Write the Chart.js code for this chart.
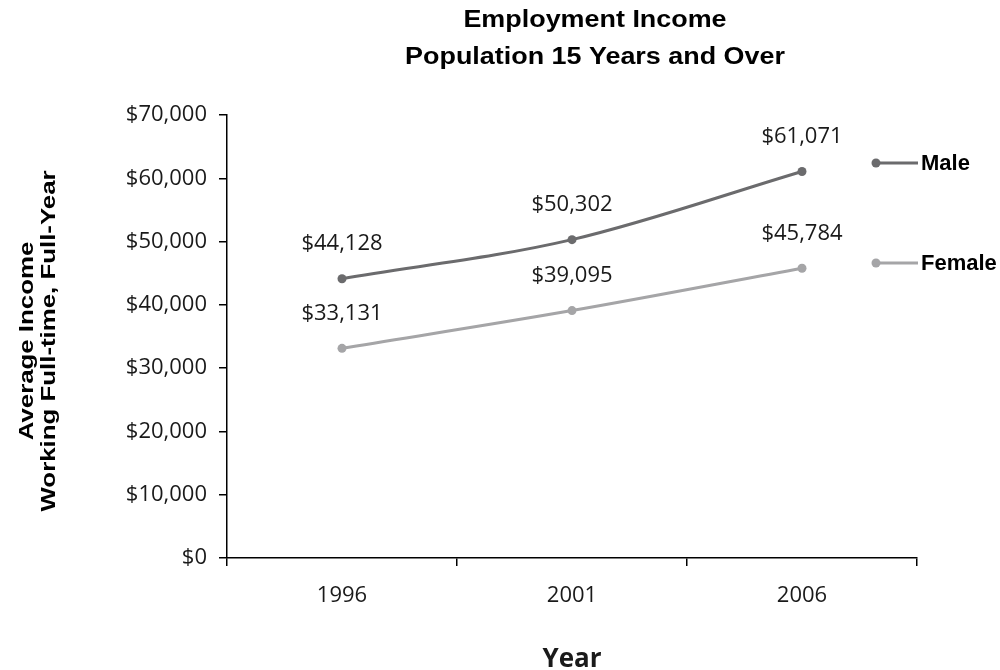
<!DOCTYPE html>
<html>
<head>
<meta charset="utf-8">
<script src="https://cdn.jsdelivr.net/npm/chart.js@4/dist/chart.umd.min.js"></script>
<style>
  html, body { margin: 0; padding: 0; background: #fff; }
  #wrap { width: 1000px; height: 670px; position: relative; }
</style>
</head>
<body>
<div id="wrap"><canvas id="incomeChart"></canvas></div>
<script>
// Chart data
const years = ['1996', '2001', '2006'];
const maleIncome = [44128, 50302, 61071];
const femaleIncome = [33131, 39095, 45784];
const seriesNames = ['Male', 'Female'];
const titleLines = ['Employment Income', 'Population 15 Years and Over'];
const yTitleLines = ['Average Income', 'Working Full-time, Full-Year'];

const colors = {
  male: '#6b6b6d',
  female: '#a5a5a7',
  text: '#1a1a1a'
};

const money = (v) => '$' + v.toLocaleString('en-US');

// Title, legend and value labels
const extrasPlugin = {
  id: 'extras',
  afterDatasetsDraw(chart) {
    const ctx = chart.ctx;
    ctx.save();

    // title (text in the original is a bit stretched sideways)
    ctx.fillStyle = '#000';
    ctx.textAlign = 'center';
    ctx.textBaseline = 'middle';
    ctx.save();
    ctx.translate(595, 0);
    ctx.scale(1.17, 1);
    ctx.font = 'bold 23px "Liberation Sans", Arial, sans-serif';
    ctx.fillText(titleLines[0], 0, 21);
    ctx.fillText(titleLines[1], 0, 58);
    ctx.restore();

    // value labels above points
    ctx.font = '22px "Open Sans", sans-serif';
    ctx.fillStyle = colors.text;
    chart.data.datasets.forEach((ds, i) => {
      chart.getDatasetMeta(i).data.forEach((pt, j) => {
        ctx.fillText(money(ds.data[j]), pt.x, pt.y - 35);
      });
    });

    // legend
    const rows = [163, 263];
    chart.data.datasets.forEach((ds, i) => {
      const y = rows[i];
      ctx.strokeStyle = ds.borderColor;
      ctx.lineWidth = 3;
      ctx.beginPath();
      ctx.moveTo(875, y);
      ctx.lineTo(918, y);
      ctx.stroke();
      ctx.fillStyle = ds.borderColor;
      ctx.beginPath();
      ctx.arc(876, y, 4.5, 0, Math.PI * 2);
      ctx.fill();
      ctx.fillStyle = '#000';
      ctx.textAlign = 'left';
      ctx.font = 'bold 22px "Liberation Sans", Arial, sans-serif';
      ctx.fillText(ds.label, 921, y + 1);
    });

    // y axis title (two lines, rotated)
    ctx.translate(38, 341);
    ctx.rotate(-Math.PI / 2);
    ctx.scale(1.23, 1);
    ctx.textAlign = 'center';
    ctx.font = 'bold 21px "Liberation Sans", Arial, sans-serif';
    ctx.fillText(yTitleLines[0], 0, -11);
    ctx.fillText(yTitleLines[1], 0, 11);
    ctx.restore();
  }
};

new Chart(document.getElementById('incomeChart'), {
  type: 'line',
  data: {
    labels: years,
    datasets: [{
      label: seriesNames[0],
      data: maleIncome,
      borderColor: colors.male,
      backgroundColor: colors.male,
      borderWidth: 3,
      pointRadius: 4.5,
      pointBackgroundColor: colors.male,
      pointBorderWidth: 0,
      cubicInterpolationMode: 'monotone',
      fill: false
    }, {
      label: seriesNames[1],
      data: femaleIncome,
      borderColor: colors.female,
      backgroundColor: colors.female,
      borderWidth: 3,
      pointRadius: 4.5,
      pointBackgroundColor: colors.female,
      pointBorderWidth: 0,
      cubicInterpolationMode: 'monotone',
      fill: false
    }]
  },
  options: {
    responsive: true,
    maintainAspectRatio: false,
    animation: false,
    layout: {
      padding: { top: 115, right: 83, bottom: 0, left: 0 }
    },
    plugins: {
      legend: { display: false },
      title: { display: false },
      tooltip: { enabled: false }
    },
    scales: {
      x: {
        offset: true,
        afterFit: (scale) => { scale.height = 670 - 558; },
        grid: {
          offset: true,
          drawOnChartArea: false,
          drawTicks: true,
          tickLength: 8,
          color: '#000',
          lineWidth: 1.5
        },
        border: { color: '#000', width: 1.5 },
        ticks: {
          color: colors.text,
          padding: 17,
          font: { family: '"Open Sans", sans-serif', size: 22 }
        },
        title: {
          display: true,
          text: 'Year',
          color: '#1a1a1a',
          padding: { top: 0, bottom: -5 },
          font: { family: '"Open Sans", sans-serif', size: 26, weight: 'bold' }
        }
      },
      y: {
        min: 0,
        max: 70000,
        afterFit: (scale) => { scale.width = 227; },
        grid: {
          drawOnChartArea: false,
          drawTicks: true,
          tickLength: 8,
          color: '#000',
          lineWidth: 1.5
        },
        border: { color: '#000', width: 1.5 },
        ticks: {
          stepSize: 10000,
          color: colors.text,
          padding: 12,
          font: { family: '"Open Sans", sans-serif', size: 22 },
          callback: (v) => money(v)
        }
      }
    }
  },
  plugins: [extrasPlugin]
});
</script>
</body>
</html>
